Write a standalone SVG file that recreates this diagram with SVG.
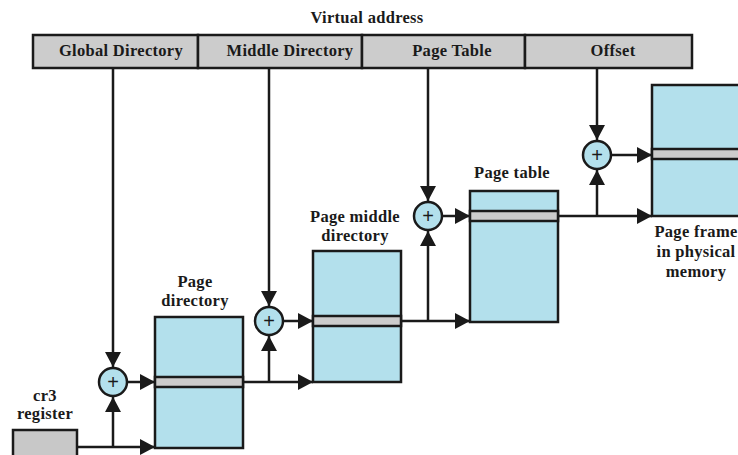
<svg xmlns="http://www.w3.org/2000/svg" width="738" height="455" viewBox="0 0 738 455">
  <style>
    .lbl { font-family: 'Liberation Serif', 'Times New Roman', serif; font-weight: bold; font-size: 16.5px; letter-spacing: 0.3px; fill: #1a1a1a; text-anchor: middle; }
    .field { fill: #cccccc; stroke: #1a1a1a; stroke-width: 2.5; }
    .table { fill: #b3e0ec; stroke: #1a1a1a; stroke-width: 2.5; }
    .entry { fill: #cccccc; stroke: #1a1a1a; stroke-width: 2.5; }
    .reg { fill: #c8c8c8; stroke: #1a1a1a; stroke-width: 2.5; }
    .adder circle { fill: #b3e0ec; stroke: #1a1a1a; stroke-width: 2.5; }
    .plus { font-family: 'Liberation Sans', Arial, sans-serif; font-size: 20px; fill: #1a1a1a; text-anchor: middle; }
    .wire { fill: none; stroke: #1a1a1a; stroke-width: 2.5; }
    .arrow { marker-end: url(#head); }
  </style>
  <defs>
    <marker id="head" markerUnits="userSpaceOnUse" markerWidth="16" markerHeight="16" refX="15" refY="8" orient="auto">
      <path d="M0,0 L15,8 L0,16 z" fill="#1a1a1a"/>
    </marker>
  </defs>

  <rect width="738" height="455" fill="#ffffff"/>

  <!-- Virtual address fields -->
  <g id="virtual-address">
    <text class="lbl" x="367" y="23">Virtual address</text>
    <rect class="field" x="33" y="35" width="165" height="33"/>
    <rect class="field" x="198" y="35" width="164" height="33"/>
    <rect class="field" x="362" y="35" width="163" height="33"/>
    <rect class="field" x="525" y="35" width="167" height="33"/>
    <text class="lbl" x="121" y="56">Global Directory</text>
    <text class="lbl" x="290" y="56">Middle Directory</text>
    <text class="lbl" x="452" y="56">Page Table</text>
    <text class="lbl" x="613" y="56">Offset</text>
  </g>

  <!-- cr3 register -->
  <g id="cr3">
    <rect class="reg" x="13" y="430" width="64" height="30"/>
    <text class="lbl" x="45" y="401">cr3</text>
    <text class="lbl" x="45" y="419">register</text>
  </g>

  <!-- Page directory -->
  <g id="page-directory">
    <rect class="table" x="155" y="317" width="88" height="131"/>
    <rect class="entry" x="155" y="377" width="88" height="10"/>
    <text class="lbl" x="195" y="287">Page</text>
    <text class="lbl" x="195" y="306">directory</text>
  </g>

  <!-- Page middle directory -->
  <g id="page-middle-directory">
    <rect class="table" x="313" y="251" width="88" height="131"/>
    <rect class="entry" x="313" y="316" width="88" height="10"/>
    <text class="lbl" x="355" y="222">Page middle</text>
    <text class="lbl" x="355" y="241">directory</text>
  </g>

  <!-- Page table -->
  <g id="page-table">
    <rect class="table" x="470" y="191" width="88" height="131"/>
    <rect class="entry" x="470" y="211" width="88" height="10"/>
    <text class="lbl" x="512" y="178">Page table</text>
  </g>

  <!-- Page frame -->
  <g id="page-frame">
    <rect class="table" x="652" y="85" width="90" height="131"/>
    <rect class="entry" x="652" y="149" width="90" height="10"/>
    <text class="lbl" x="696" y="237">Page frame</text>
    <text class="lbl" x="696" y="257">in physical</text>
    <text class="lbl" x="696" y="277">memory</text>
  </g>

  <!-- Adders -->
  <g id="adder-1" class="adder">
    <circle cx="113" cy="382" r="14"/>
    <text class="plus" x="113" y="389">+</text>
  </g>
  <g id="adder-2" class="adder">
    <circle cx="269" cy="321" r="14"/>
    <text class="plus" x="269" y="328">+</text>
  </g>
  <g id="adder-3" class="adder">
    <circle cx="428" cy="216" r="14"/>
    <text class="plus" x="428" y="223">+</text>
  </g>
  <g id="adder-4" class="adder">
    <circle cx="597" cy="155" r="14"/>
    <text class="plus" x="597" y="162">+</text>
  </g>

  <!-- Connectors -->
  <g id="connectors">
    <!-- address fields down to adders -->
    <path class="wire arrow" d="M113,68 V367"/>
    <path class="wire arrow" d="M269,68 V306"/>
    <path class="wire arrow" d="M428,68 V201"/>
    <path class="wire arrow" d="M597,68 V140"/>

    <!-- cr3 to page directory -->
    <path class="wire arrow" d="M77,447 H155"/>
    <path class="wire arrow" d="M113,447 V397"/>
    <path class="wire arrow" d="M127,382 H155"/>

    <!-- page directory entry to page middle directory -->
    <path class="wire arrow" d="M243,382 H313"/>
    <path class="wire arrow" d="M269,382 V336"/>
    <path class="wire arrow" d="M283,321 H313"/>

    <!-- page middle directory entry to page table -->
    <path class="wire arrow" d="M401,321 H470"/>
    <path class="wire arrow" d="M428,321 V231"/>
    <path class="wire arrow" d="M442,216 H470"/>

    <!-- page table entry to page frame -->
    <path class="wire arrow" d="M558,216 H652"/>
    <path class="wire arrow" d="M597,216 V170"/>
    <path class="wire arrow" d="M611,155 H652"/>
  </g>
</svg>
